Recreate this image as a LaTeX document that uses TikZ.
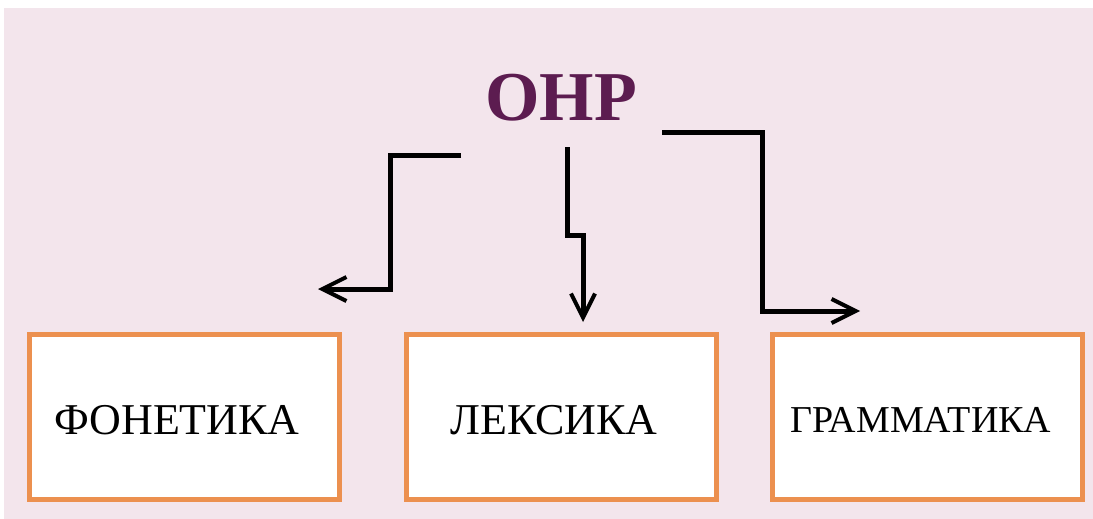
\documentclass[tikz,border=0pt]{standalone}
\usepackage{fontspec}
\setmainfont{Liberation Serif}
\usetikzlibrary{arrows.meta}
\definecolor{bgpink}{HTML}{F3E5EC}
\definecolor{boxorange}{HTML}{EC904F}
\definecolor{titlepurple}{HTML}{5C1C50}
\tikzset{
  topicbox/.style={draw=boxorange, line width=5pt, fill=white, minimum width=310pt, minimum height=165pt, inner sep=0pt},
  topictext/.style={font=\fontsize{44}{50}\selectfont, text=black},
  conn/.style={line width=5pt, line join=miter, -{Straight Barb[length=24pt,width=24pt,line width=4pt]}}
}
\begin{document}
\begin{tikzpicture}[x=1pt,y=-1pt]
\useasboundingbox (0,0) rectangle (1093,519);
\fill[white] (0,0) rectangle (1093,519);
\fill[bgpink] (4,8) rectangle (1093,519);
\node[font=\bfseries\fontsize{70}{80}\selectfont, text=titlepurple] (title) at (561,98) {ОНР};
\node[topicbox] (b1) at (184.5,417) {};
\node[topicbox] (b2) at (561.5,417) {};
\node[topicbox] (b3) at (927.5,417) {};
\node[topictext] at (177,420) {ФОНЕТИКА};
\node[topictext] at (554,420) {ЛЕКСИКА};
\node[topictext, font=\fontsize{38}{44}\selectfont] at (921,420) {ГРАММАТИКА};
\coordinate (s1) at (461,155);
\coordinate (e1) at (318,289);
\coordinate (s2) at (567,147);
\coordinate (e2) at (583,322);
\coordinate (s3) at (662,132);
\coordinate (e3) at (860,311);
\draw[conn] (s1) -- (390,155) -- (390,289) -- (e1);
\draw[conn] (s2) -- (567,235) -- (583,235) -- (e2);
\draw[conn] (s3) -- (762,132) -- (762,311) -- (e3);
\end{tikzpicture}
\end{document}
